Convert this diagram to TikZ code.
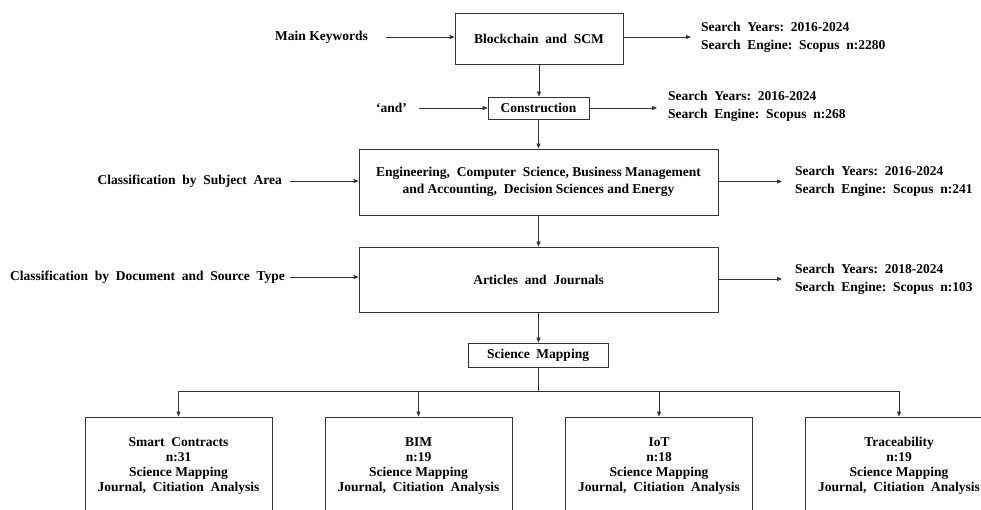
\documentclass[tikz,border=0pt]{standalone}
\usepackage{fontspec}
\setmainfont{Liberation Serif}
\usetikzlibrary{arrows.meta}
\begin{document}
\begin{tikzpicture}[x=1pt,y=-1pt,
  every node/.style={font=\fontsize{13.5}{18}\selectfont\bfseries},
  box/.style={draw=black!80, line width=0.8pt, align=center, inner sep=0pt},
  lbl/.style={inner sep=0pt, align=left},
  arr/.style={draw=black!80, line width=0.8pt, -{Triangle[length=5pt,width=4pt]}},
  ln/.style={draw=black!80, line width=0.8pt}]
\useasboundingbox (0,0) rectangle (981,510);
\clip (0,0) rectangle (981,510);

% main flow boxes
\node[box, minimum width=168, minimum height=51] (b1) at (539,38.5) {Blockchain\ \ and\ \ SCM};
\node[box, minimum width=101, minimum height=22] (b2) at (538.5,108) {Construction};
\node[box, minimum width=359, minimum height=66,
      font=\fontsize{13.5}{17}\selectfont\bfseries] (b3) at (538.5,182)
  {Engineering,\ \ Computer\ \ Science, Business Management\\and Accounting,\ \ Decision Sciences and Energy};
\node[box, minimum width=359, minimum height=65] (b4) at (538.5,279.5) {Articles\ \ and\ \ Journals};
\node[box, minimum width=140, minimum height=24] (sm) at (538,355) {Science\ \ Mapping};

% inputs on the left
\node[lbl, anchor=east] (in1) at (368,37) {Main Keywords};
\node[lbl, anchor=east] (in2) at (407,108) {‘and’};
\node[lbl, anchor=east] (in3) at (282,181) {Classification\ \ by\ \ Subject\ \ Area};
\node[lbl, anchor=east] (in4) at (285,277) {Classification\ \ by\ \ Document\ \ and\ \ Source\ \ Type};

% search results on the right
\tikzset{res/.style={lbl, anchor=west}}
\node[res] (r1) at (701,37) {Search\ \ Years:\ \ 2016-2024\\Search\ \ Engine:\ \ Scopus\ \ n:2280};
\node[res] (r2) at (668,106) {Search\ \ Years:\ \ 2016-2024\\Search\ \ Engine:\ \ Scopus\ \ n:268};
\node[res] (r3) at (795,181.5) {Search\ \ Years:\ \ 2016-2024\\Search\ \ Engine:\ \ Scopus\ \ n:241};
\node[res] (r4) at (795,279) {Search\ \ Years:\ \ 2018-2024\\Search\ \ Engine:\ \ Scopus\ \ n:103};

% topic boxes
\foreach \n/\x/\t/\k in {ta/178.5/Smart\ \ Contracts/31, tb/418.5/BIM/19, tc/659/IoT/18, td/899/Traceability/19}{
  \node[box, minimum width=187, minimum height=98,
        font=\fontsize{13.5}{15}\selectfont\bfseries] (\n) at (\x,466)
    {\t\\n:\k\\Science Mapping\\Journal,\ \ Citiation\ \ Analysis};
}

% input arrows
\draw[arr, shorten <=18pt] (in1.east) -- (in1.east -| b1.west);
\draw[arr, shorten <=12pt] (in2.east) -- (in2.east -| b2.west);
\draw[arr, shorten <=8pt] (in3.east) -- (in3.east -| b3.west);
\draw[arr, shorten <=5pt] (in4.east) -- (in4.east -| b4.west);

% output arrows
\draw[arr, shorten >=10pt] (b1.east |- r1.west) -- (r1.west);
\draw[arr, shorten >=11pt] (b2.east) -- (b2.east -| r2.west);
\draw[arr, shorten >=13pt] (b3.east |- r3.west) -- (r3.west);
\draw[arr, shorten >=13pt] (b4.east |- r4.west) -- (r4.west);

% vertical flow
\draw[arr] (b1.south) -- (b1.south |- b2.north);
\draw[arr] (b2.south) -- (b2.south |- b3.north);
\draw[arr] (b3.south) -- (b3.south |- b4.north);
\draw[arr] (b4.south) -- (b4.south |- sm.north);

% branch to topics
\coordinate (bus) at (539,391);
\draw[ln] (sm.south) -- (sm.south |- bus);
\draw[ln] (ta.north |- bus) -- (td.north |- bus);
\foreach \n in {ta,tb,tc,td}{
  \draw[arr] (\n.north |- bus) -- (\n.north);
}
\end{tikzpicture}
\end{document}
